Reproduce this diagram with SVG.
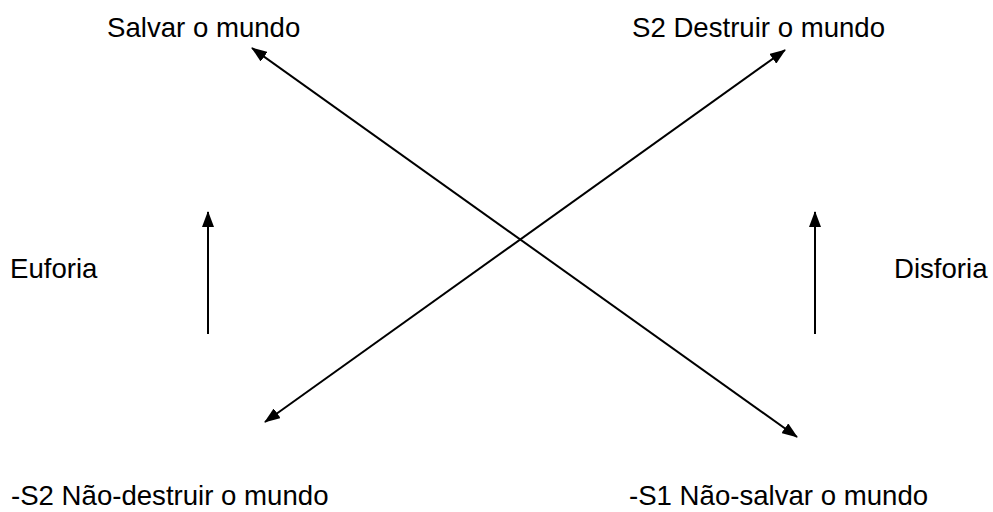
<svg xmlns="http://www.w3.org/2000/svg" width="993" height="512" viewBox="0 0 993 512">
<defs>
<style>
text{font-family:"Liberation Sans",Arial,sans-serif;font-size:27.6px;fill:#000}
.c line{stroke:#000;stroke-width:2;fill:none}
</style>
<marker id="ah" viewBox="0 0 16 12" refX="15" refY="6" markerWidth="16" markerHeight="12" markerUnits="userSpaceOnUse" orient="auto-start-reverse">
<path d="M0,0 L16,6 L0,12 Z" fill="#000"/>
</marker>
</defs>
<rect width="993" height="512" fill="#fff"/>
<g id="n-salvar"><text x="107" y="37">Salvar o mundo</text></g>
<g id="n-destruir"><text x="632" y="37">S2 Destruir o mundo</text></g>
<g id="n-euforia"><text x="10" y="278">Euforia</text></g>
<g id="n-disforia"><text x="894" y="278">Disforia</text></g>
<g id="n-naodestruir"><text x="11" y="505">-S2 Não-destruir o mundo</text></g>
<g id="n-naosalvar"><text x="629" y="505">-S1 Não-salvar o mundo</text></g>
<g class="c" id="connectors">
<line x1="252" y1="48" x2="797" y2="437" marker-start="url(#ah)" marker-end="url(#ah)"/>
<line x1="265" y1="422" x2="785" y2="50" marker-start="url(#ah)" marker-end="url(#ah)"/>
<line x1="208" y1="334" x2="208" y2="212" marker-end="url(#ah)"/>
<line x1="815" y1="334" x2="815" y2="212" marker-end="url(#ah)"/>
</g>
</svg>
